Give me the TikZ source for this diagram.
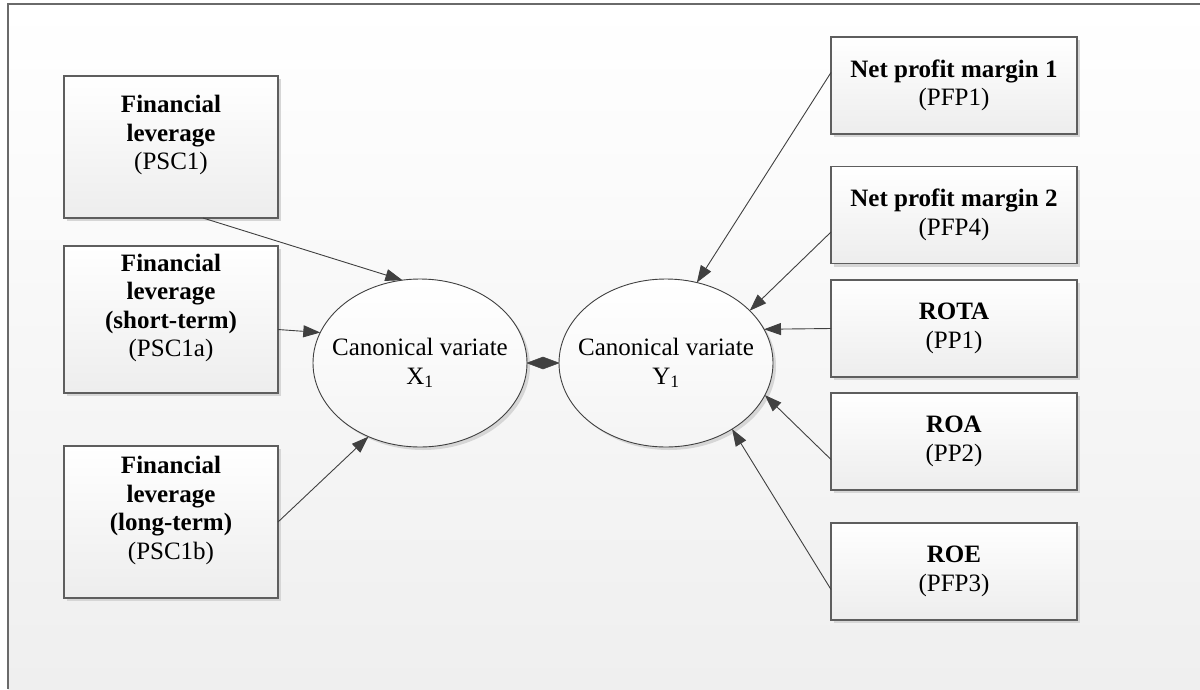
\documentclass[tikz,border=0pt]{standalone}
\usepackage{fontspec}
\setmainfont{Liberation Serif}
\usetikzlibrary{arrows.meta,shadows,shapes.geometric,calc}
\definecolor{linecol}{HTML}{404040}
\definecolor{boxborder}{HTML}{5E5E5E}
\definecolor{framecol}{HTML}{6A6A6A}
\definecolor{bgbottom}{HTML}{EFEFEF}
\definecolor{boxbottom}{HTML}{EDEDED}
\definecolor{shadowcol}{HTML}{D6D6D6}
\begin{document}
\begin{tikzpicture}[x=1pt,y=-1pt,
  every node/.style={inner sep=0pt, outer sep=0pt},
  txt/.style={font=\fontsize{25}{28.5}\selectfont},
  lbox/.style={rectangle, draw=boxborder, line width=1.2pt, top color=white, bottom color=boxbottom,
    drop shadow={shadow xshift=3pt, shadow yshift=-3pt, fill=shadowcol, opacity=1},
    minimum width=214pt, align=center, txt},
  rbox/.style={lbox, minimum width=246pt, minimum height=97pt},
  cvar/.style={ellipse, draw=linecol, line width=0.9pt, top color=white, bottom color=boxbottom!60,
    drop shadow={shadow xshift=3pt, shadow yshift=-3pt, fill=shadowcol, opacity=1},
    minimum width=214pt, minimum height=168pt},
  cvtext/.style={align=center, txt},
  arr/.style={draw=linecol, line width=0.9pt, -{Triangle[length=17pt,width=12pt]}},
  diamondtip/.style={fill=linecol, draw=linecol, line width=0.5pt, line join=miter},
  frame/.style={draw=framecol, line width=1.5pt}
]
\useasboundingbox (0,0) rectangle (1200,689);
\fill[white] (0,0) rectangle (1200,689);
\shade[top color=white, bottom color=bgbottom] (8,4) rectangle (1200,689);
\draw[frame] (8,689) -- (8,4) -- (1200,4);

% left boxes
\node[lbox, minimum height=142pt] (psc1) at (171,147) {\textbf{Financial}\\\textbf{leverage}\\(PSC1)\\\mbox{}};
\node[lbox, minimum height=147pt] (psc1a) at (171,319.5) {\textbf{Financial}\\\textbf{leverage}\\\textbf{(short-term)}\\(PSC1a)\\\mbox{}};
\node[lbox, minimum height=152pt] (psc1b) at (171,522) {\textbf{Financial}\\\textbf{leverage}\\\textbf{(long-term)}\\(PSC1b)\\\mbox{}};

% right boxes
\node[rbox] (npm1) at (954,85.5) {\textbf{Net profit margin 1}\\(PFP1)};
\node[rbox] (npm2) at (954,215) {\textbf{Net profit margin 2}\\(PFP4)};
\node[rbox] (rota) at (954,328.5) {\textbf{ROTA}\\(PP1)};
\node[rbox] (roa) at (954,441.5) {\textbf{ROA}\\(PP2)};
\node[rbox] (roe) at (954,571.5) {\textbf{ROE}\\(PFP3)};

% canonical variates
\node[cvar] (x1) at (420,363) {};
\node[cvtext] (x1t) at (x1) {Canonical variate\\X\textsubscript{1}};
\node[cvar] (y1) at (666,363) {};
\node[cvtext] (y1t) at (y1) {Canonical variate\\Y\textsubscript{1}};

% connectors
\draw[arr] ([xshift=32pt]psc1.south) -- (x1.102);
\draw[arr] ([yshift=-10pt]psc1a.east) -- (x1.163);
\draw[arr] (psc1b.east) -- (x1.235);
\draw[arr] ([yshift=13pt]npm1.west) -- (y1.69);
\draw[arr] ([yshift=-17pt]npm2.west) -- (y1.32);
\draw[arr] (rota.west) -- (y1.19);
\draw[arr] ([yshift=-18pt]roa.west) -- (y1.342);
\draw[arr] ([yshift=-18pt]roe.west) -- (y1.315);
% two-headed connector between the canonical variates (tips meet in the middle)
\coordinate (mid) at ($(x1.east)!0.5!(y1.west)$);
\path[diamondtip] (x1.east) -- ([yshift=6pt]mid) -- (y1.west) -- ([yshift=-6pt]mid) -- cycle;
\end{tikzpicture}
\end{document}
